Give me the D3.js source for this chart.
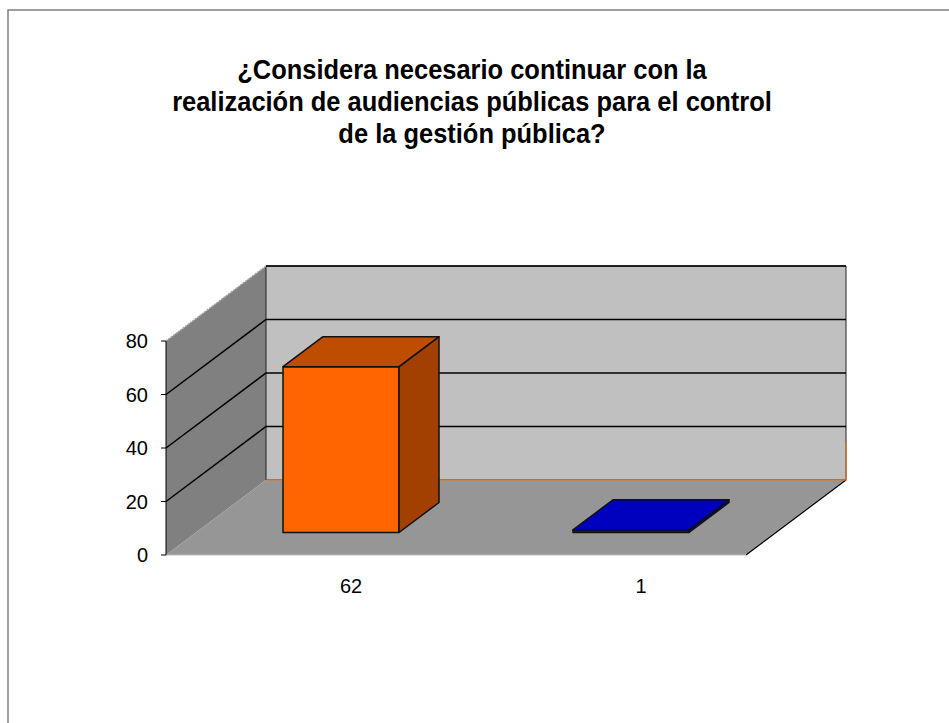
<!DOCTYPE html>
<html>
<head>
<meta charset="utf-8">
<script src="https://cdn.jsdelivr.net/npm/d3@7/dist/d3.min.js"></script>
<style>
  body { margin: 0; background: #fff; }
  svg { display: block; font-family: "Liberation Sans", Arial, sans-serif; }
</style>
</head>
<body>
<svg id="chart" width="949" height="723"></svg>
<script>
'use strict';

// data
const categories = ['62', '1'];
const values = [62, 1];
const barColors = ['#FF6600', '#0000FF'];
const yTicks = [0, 20, 40, 60, 80];
const titleLines = [
  '¿Considera necesario continuar con la',
  'realización de audiencias públicas para el control',
  'de la gestión pública?'
];

const floorLeft = 166;
const floorRight = 746;
const floorFront = 555;
const depthX = 100;
const depthY = -75;
const barDepthFront = 0.3;
const barDepthBack = 0.7;
const titleX = 472;
const titleWidest = 600;

const svg = d3.select('#chart');

// outer frame
svg.append('rect')
  .attr('x', 8).attr('y', 10)
  .attr('width', 960).attr('height', 740)
  .attr('fill', 'none')
  .attr('stroke', '#808080')
  .attr('stroke-width', 1.5);

// title, squeezed a little like the original narrow rendering
const title = svg.append('text')
  .attr('text-anchor', 'middle')
  .attr('font-weight', 'bold')
  .attr('font-size', 28)
  .attr('fill', '#000');
titleLines.forEach((line, i) => {
  title.append('tspan')
    .attr('x', 0)
    .attr('y', 79 + i * 32)
    .text(line);
});
const widest = d3.max(title.selectAll('tspan').nodes(), n => n.getComputedTextLength());
title.attr('transform', `translate(${titleX},0) scale(${titleWidest / widest},1)`);

const x = d3.scaleBand()
  .domain(categories)
  .range([floorLeft, floorRight])
  .paddingInner(0.6)
  .paddingOuter(0.3);

const y = d3.scaleLinear()
  .domain([0, 80])
  .range([floorFront, 341]);

// project a point (px on front plane, value, depth fraction)
function pt(px, v, d) {
  return [px + d * depthX, y(v) + d * depthY];
}
function poly(points) {
  return 'M' + points.map(p => p.join(',')).join('L') + 'Z';
}

const g = svg.append('g');
const yMax = y.domain()[1];

// left side wall
g.append('path')
  .attr('d', poly([pt(floorLeft, 0, 0), pt(floorLeft, 0, 1), pt(floorLeft, yMax, 1), pt(floorLeft, yMax, 0)]))
  .attr('fill', '#808080');

// back wall
g.append('path')
  .attr('d', poly([pt(floorLeft, 0, 1), pt(floorRight, 0, 1), pt(floorRight, yMax, 1), pt(floorLeft, yMax, 1)]))
  .attr('fill', '#C0C0C0')
  .attr('stroke', '#222')
  .attr('stroke-width', 1);

// side wall top edge
g.append('line')
  .attr('x1', pt(floorLeft, yMax, 0)[0]).attr('y1', pt(floorLeft, yMax, 0)[1])
  .attr('x2', pt(floorLeft, yMax, 1)[0]).attr('y2', pt(floorLeft, yMax, 1)[1])
  .attr('stroke', '#a8a8a8')
  .attr('stroke-width', 1.5)
  .attr('stroke-dasharray', '2,1');

// gridlines on side wall and back wall
yTicks.filter(t => t > 0 && t < yMax).forEach(t => {
  const a = pt(floorLeft, t, 0), b = pt(floorLeft, t, 1), c = pt(floorRight, t, 1);
  g.append('path')
    .attr('d', `M${a}L${b}L${c}`)
    .attr('fill', 'none')
    .attr('stroke', '#000')
    .attr('stroke-width', 1.5);
});
g.append('line')
  .attr('x1', pt(floorLeft, yMax, 1)[0]).attr('y1', pt(floorLeft, yMax, 1)[1])
  .attr('x2', pt(floorRight, yMax, 1)[0]).attr('y2', pt(floorRight, yMax, 1)[1])
  .attr('stroke', '#000')
  .attr('stroke-width', 1.5);

// floor
g.append('path')
  .attr('d', poly([pt(floorLeft, 0, 0), pt(floorRight, 0, 0), pt(floorRight, 0, 1), pt(floorLeft, 0, 1)]))
  .attr('fill', '#969696');
g.append('line')
  .attr('x1', pt(floorRight, 0, 0)[0]).attr('y1', pt(floorRight, 0, 0)[1])
  .attr('x2', pt(floorRight, 0, 1)[0]).attr('y2', pt(floorRight, 0, 1)[1])
  .attr('stroke', '#000')
  .attr('stroke-width', 1.2);
g.append('path')
  .attr('d', `M${pt(floorLeft, 0, 1)}L${pt(floorRight, 0, 1)}L${pt(floorRight, 14, 1)}`)
  .attr('fill', 'none')
  .attr('stroke', '#E0782A')
  .attr('stroke-width', 1.2);
g.append('line')
  .attr('x1', pt(floorLeft, 0, 0)[0]).attr('y1', pt(floorLeft, 0, 0)[1])
  .attr('x2', pt(floorRight, 0, 0)[0]).attr('y2', pt(floorRight, 0, 0)[1])
  .attr('stroke', '#bbb')
  .attr('stroke-width', 1);

// bars
function shade(c, k) {
  const r = d3.rgb(c);
  return d3.rgb(r.r * k, r.g * k, r.b * k).formatHex();
}
categories.forEach((cat, i) => {
  const x0 = x(cat), x1 = x(cat) + x.bandwidth();
  const v = values[i];
  const d0 = barDepthFront, d1 = barDepthBack;
  const bar = g.append('g').attr('class', 'bar')
    .attr('stroke', '#111')
    .attr('stroke-width', 1.5)
    .attr('stroke-linejoin', 'round');
  // front face
  bar.append('path')
    .attr('d', poly([pt(x0, 0, d0), pt(x1, 0, d0), pt(x1, v, d0), pt(x0, v, d0)]))
    .attr('fill', barColors[i]);
  // side face
  bar.append('path')
    .attr('d', poly([pt(x1, 0, d0), pt(x1, 0, d1), pt(x1, v, d1), pt(x1, v, d0)]))
    .attr('fill', shade(barColors[i], 0.63));
  // top face
  bar.append('path')
    .attr('d', poly([pt(x0, v, d0), pt(x1, v, d0), pt(x1, v, d1), pt(x0, v, d1)]))
    .attr('fill', shade(barColors[i], 0.75));
});

// value axis on the front left edge
g.append('line')
  .attr('x1', floorLeft).attr('x2', floorLeft)
  .attr('y1', y(0)).attr('y2', y(yMax))
  .attr('stroke', '#000')
  .attr('stroke-width', 1);
yTicks.forEach(t => {
  g.append('line')
    .attr('x1', floorLeft - 5).attr('x2', floorLeft)
    .attr('y1', y(t)).attr('y2', y(t))
    .attr('stroke', '#000');
  g.append('text')
    .attr('x', 148)
    .attr('y', y(t))
    .attr('dy', '0.36em')
    .attr('text-anchor', 'end')
    .attr('font-size', 20)
    .text(t);
});

// category labels
categories.forEach(cat => {
  g.append('text')
    .attr('x', x(cat) + x.bandwidth() / 2 + 40)
    .attr('y', 593)
    .attr('text-anchor', 'middle')
    .attr('font-size', 20)
    .text(cat);
});
</script>
</body>
</html>
